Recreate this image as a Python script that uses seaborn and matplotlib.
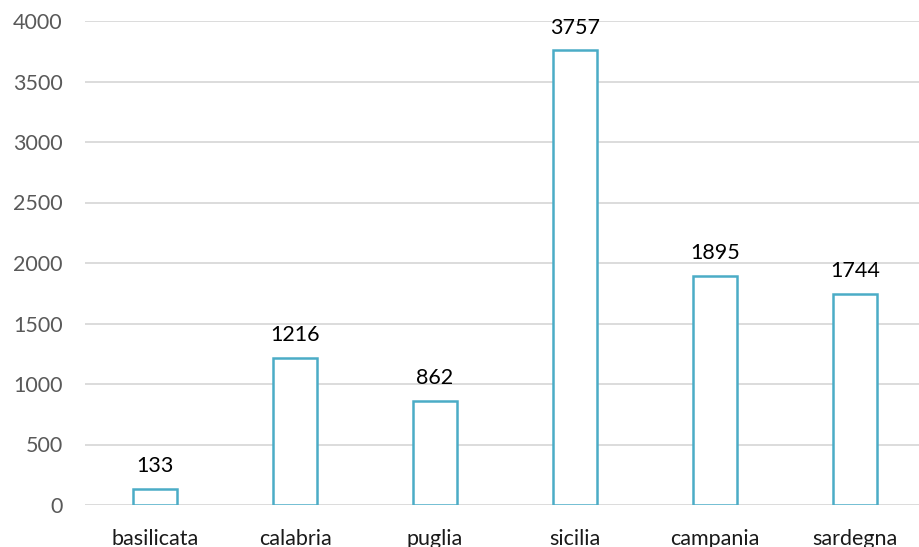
import matplotlib
matplotlib.use("Agg")
import matplotlib.pyplot as plt
import seaborn as sns
import pandas as pd

categories = ["basilicata", "calabria", "puglia", "sicilia", "campania", "sardegna"]
values = [133, 1216, 862, 3757, 1895, 1744]
yticks = [0, 500, 1000, 1500, 2000, 2500, 3000, 3500, 4000]

df = pd.DataFrame({"regione": categories, "valore": values})

sns.set_theme(style="white")
plt.rcParams["font.family"] = ["Lato", "DejaVu Sans"]

W, H = 919, 547
fig = plt.figure(figsize=(W / 100, H / 100), dpi=100)
ax = fig.add_axes([85 / W, 42 / H, 840 / W, 484 / H])

sns.barplot(data=df, x="regione", y="valore", ax=ax, color="white",
            edgecolor="#4BACC6", linewidth=1.8, width=0.315, saturation=1)

ax.set_ylim(0, 4000)
ax.set_xlim(-0.5, len(categories) - 0.5)
ax.set_yticks(yticks)
ax.set_yticklabels([str(t) for t in yticks], fontsize=15.5, color="#595959")
ax.tick_params(axis="y", length=0, pad=16)
ax.tick_params(axis="x", length=0, pad=17, labelsize=15.5, labelcolor="#1a1a1a")
ax.grid(axis="y", color="#D9D9D9", linewidth=1.3)
ax.set_axisbelow(True)
for s in ax.spines.values():
    s.set_visible(False)
ax.set_xlabel("")
ax.set_ylabel("")

for i, v in enumerate(values):
    ax.annotate(str(v), (i, v), xytext=(0, 9), textcoords="offset points",
                ha="center", va="bottom", fontsize=15.5, color="#000000")

fig.savefig("out.png", dpi=100)
